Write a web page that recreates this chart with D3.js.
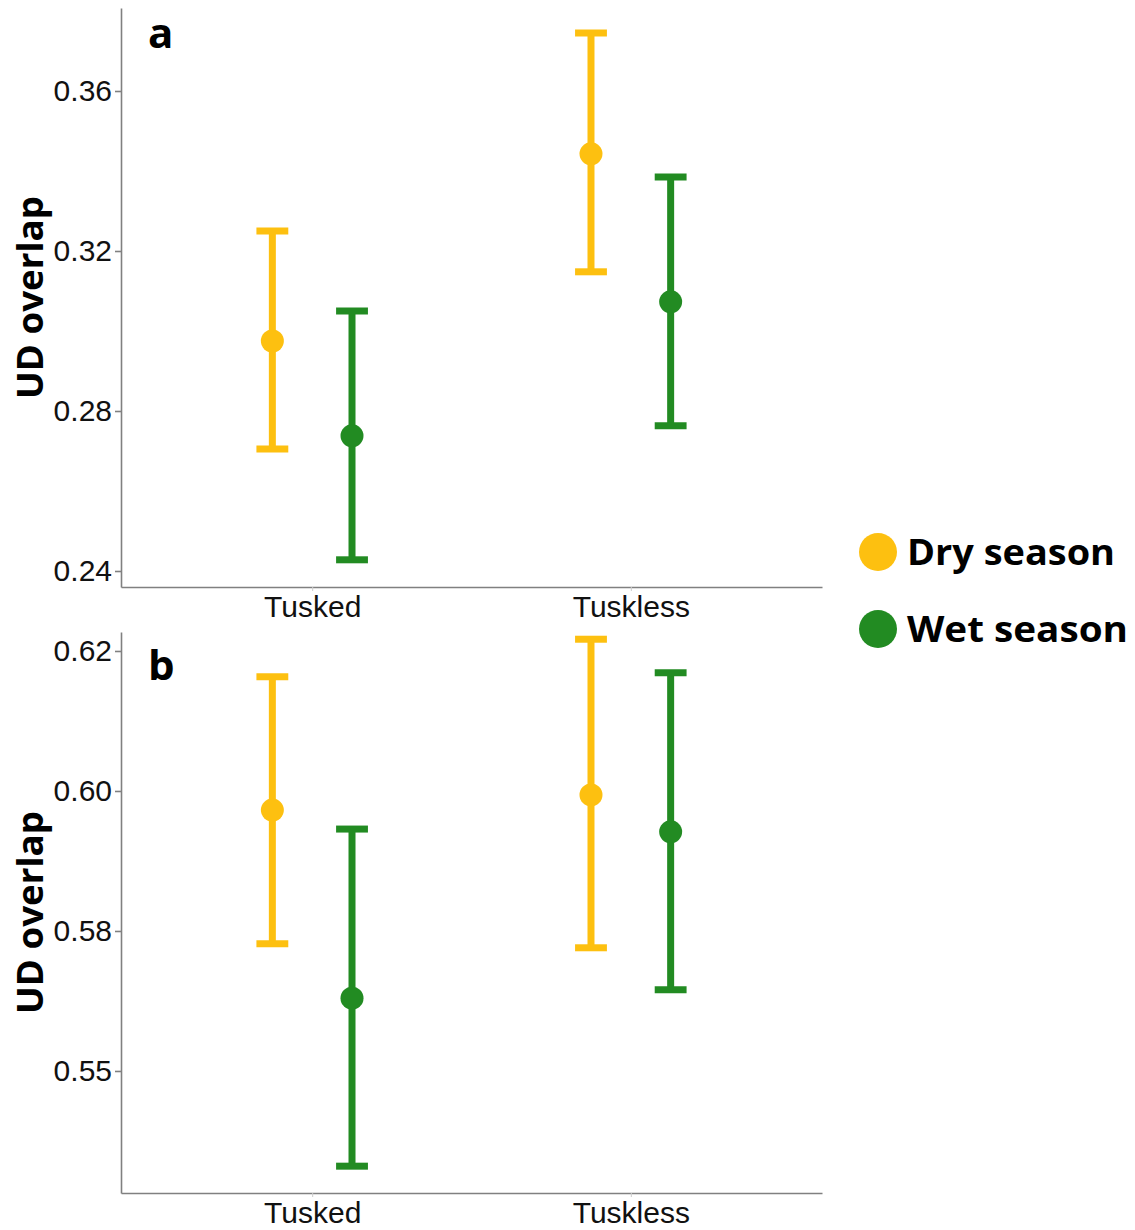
<!DOCTYPE html>
<html><head><meta charset="utf-8">
<script src="https://cdn.jsdelivr.net/npm/d3@7"></script>
<style>body{margin:0;background:#fff}</style>
</head><body>
<script>
const categories = ["Tusked", "Tuskless"];
const seasons = ["Dry season", "Wet season"];
const seasonColors = ["#FDC010", "#228B22"];
// Panel a
const aMean  = [[0.2975, 0.2738], [0.3443, 0.3073]];
const aLower = [[0.2705, 0.2428], [0.3148, 0.2763]];
const aUpper = [[0.3250, 0.3050], [0.3745, 0.3385]];
const aTicks = [0.24, 0.28, 0.32, 0.36];
const aTickLabels = ["0.24", "0.28", "0.32", "0.36"];
// Panel b
const bMean  = [[0.5966, 0.5630], [0.5993, 0.5927]];
const bLower = [[0.5727, 0.5330], [0.5720, 0.5645]];
const bUpper = [[0.6204, 0.5932], [0.6271, 0.6211]];
const bTicks = [0.55, 0.575, 0.60, 0.625];
const bTickLabels = ["0.55", "0.58", "0.60", "0.62"];

const W = 1135, H = 1230;
const svg = d3.select("body").append("svg").attr("width", W).attr("height", H);

const x = d3.scaleLinear().domain([0.4, 2.6]).range([121, 822]);
const dodge = [-0.125, 0.125];
const capHalf = 0.05;

function panel(mean, lower, upper, ticks, tickLabels, yDomain, yRange, letter, letterY) {
  const y = d3.scaleLinear().domain(yDomain).range(yRange);
  const g = svg.append("g");
  // y axis
  const ya = g.append("g").attr("transform", `translate(121,0)`)
    .call(d3.axisLeft(y).tickValues(ticks).tickFormat((d, i) => tickLabels[i]).tickSize(6).tickSizeOuter(0));
  ya.select(".domain").attr("stroke", "#808080").attr("stroke-width", 1.6);
  ya.selectAll(".tick line").attr("stroke", "#808080").attr("stroke-width", 1.6);
  ya.selectAll(".tick text").style("font-family", "Liberation Sans, Arial, sans-serif")
    .style("font-size", "30px").attr("fill", "#111").attr("x", -9);
  // x axis
  const xa = g.append("g").attr("transform", `translate(0,${yRange[0]})`)
    .call(d3.axisBottom(x).tickValues([1, 2]).tickFormat((d, i) => categories[i]).tickSize(4).tickSizeOuter(0));
  xa.select(".domain").attr("stroke", "#808080").attr("stroke-width", 1.6);
  xa.selectAll(".tick line").attr("stroke", "#cccccc").attr("stroke-width", 1);
  xa.selectAll(".tick text").style("font-family", "Liberation Sans, Arial, sans-serif")
    .style("font-size", "30px").attr("fill", "#111").attr("dy", "0.71em").attr("y", 9);
  // y label
  const yMid = (yRange[0] + yRange[1]) / 2;
  g.append("text").attr("transform", `translate(43,${yMid}) rotate(-90)`)
    .attr("text-anchor", "middle").style("font-family", "Open Sans, Liberation Sans, sans-serif")
    .style("font-weight", "bold").style("font-size", "35px").attr("fill", "#000")
    .attr("textLength", 203).attr("lengthAdjust", "spacingAndGlyphs").text("UD overlap");
  // panel letter
  g.append("text").attr("x", 148).attr("y", letterY).style("font-family", "Open Sans, Liberation Sans, sans-serif")
    .style("font-weight", "bold").style("font-size", "42px").attr("fill", "#000").text(letter);
  // error bars
  categories.forEach((c, ci) => {
    seasons.forEach((s, si) => {
      const cx = ci + 1 + dodge[si];
      const col = seasonColors[si];
      g.append("line").attr("x1", x(cx)).attr("x2", x(cx)).attr("y1", y(lower[ci][si])).attr("y2", y(upper[ci][si]))
        .attr("stroke", col).attr("stroke-width", 7);
      [lower[ci][si], upper[ci][si]].forEach(v => {
        g.append("line").attr("x1", x(cx - capHalf)).attr("x2", x(cx + capHalf)).attr("y1", y(v)).attr("y2", y(v))
          .attr("stroke", col).attr("stroke-width", 7);
      });
      g.append("circle").attr("cx", x(cx)).attr("cy", y(mean[ci][si])).attr("r", 11.5).attr("fill", col);
    });
  });
}

panel(aMean, aLower, aUpper, aTicks, aTickLabels, [0.236, 0.38075], [587, 8], "a", 48);
panel(bMean, bLower, bUpper, bTicks, bTickLabels, [0.52821, 0.62839], [1193, 632], "b", 680);

// legend
const leg = svg.append("g");
const legY = [552, 629];
const legLen = [208, 221];
seasons.forEach((s, i) => {
  leg.append("circle").attr("cx", 878).attr("cy", legY[i]).attr("r", 19).attr("fill", seasonColors[i]);
  leg.append("text").attr("x", 907).attr("y", legY[i]).attr("dy", "0.36em")
    .style("font-family", "Open Sans, Liberation Sans, sans-serif").style("font-weight", "bold")
    .style("font-size", "36px").attr("fill", "#000")
    .attr("textLength", legLen[i]).attr("lengthAdjust", "spacingAndGlyphs").text(s);
});
</script>
</body></html>
